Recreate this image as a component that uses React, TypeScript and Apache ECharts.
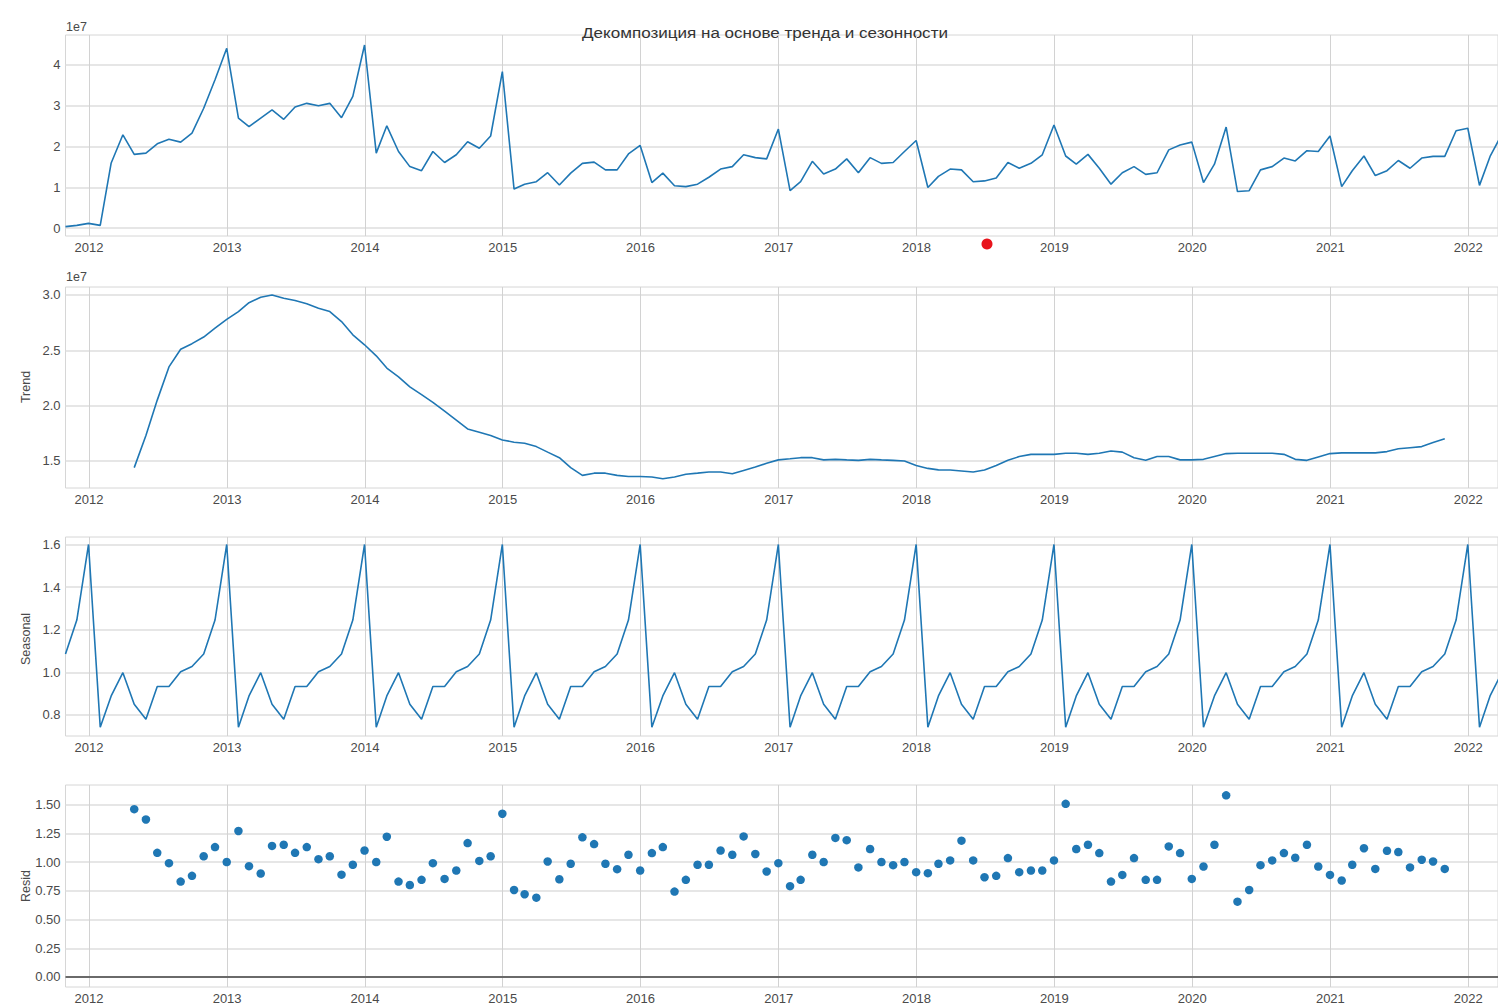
import React, { useEffect, useRef } from "react";
import * as echarts from "echarts";

// Monthly series, values in units of 1e7, month-end dates
const observedStart = { year: 2011, month: 9 }; // Oct 2011
const observed = [
  0.04, 0.07, 0.12,
  0.07, 1.6, 2.29, 1.81, 1.84, 2.07, 2.18, 2.11, 2.33, 2.94, 3.64, 4.41,
  2.7, 2.49, 2.7, 2.9, 2.67, 2.97, 3.06, 3.0, 3.06, 2.71, 3.23, 4.49,
  1.84, 2.51, 1.88, 1.51, 1.41, 1.88, 1.61, 1.8, 2.12, 1.96, 2.26, 3.84,
  0.96, 1.08, 1.14, 1.36, 1.06, 1.35, 1.59, 1.62, 1.43, 1.43, 1.82, 2.03,
  1.12, 1.35, 1.04, 1.02, 1.08, 1.25, 1.45, 1.51, 1.8, 1.73, 1.7, 2.43,
  0.92, 1.14, 1.64, 1.33, 1.45, 1.7, 1.36, 1.73, 1.59, 1.61, 1.88, 2.15,
  1.0, 1.27, 1.45, 1.43, 1.14, 1.16, 1.23, 1.61, 1.47, 1.59, 1.8, 2.53,
  1.77, 1.57, 1.81, 1.47, 1.08, 1.36, 1.51, 1.32, 1.36, 1.92, 2.04, 2.11,
  1.12, 1.57, 2.48, 0.9, 0.92, 1.43, 1.51, 1.72, 1.65, 1.9, 1.88, 2.26,
  1.02, 1.41, 1.77, 1.29, 1.41, 1.66, 1.47, 1.72, 1.76, 1.76, 2.39, 2.45,
  1.05, 1.76, 2.3,
];

// Trend and residual start in Apr 2012 (centered moving average)
const componentStart = { year: 2012, month: 3 };
const trend = [
  1.44, 1.73, 2.05, 2.35, 2.51, 2.56, 2.62, 2.7, 2.78,
  2.85, 2.93, 2.98, 3.0, 2.97, 2.95, 2.92, 2.88, 2.85, 2.76, 2.64, 2.55,
  2.45, 2.34, 2.26, 2.17, 2.1, 2.03, 1.95, 1.87, 1.79, 1.76, 1.73, 1.69,
  1.67, 1.66, 1.63, 1.58, 1.53, 1.44, 1.37, 1.39, 1.39, 1.37, 1.36, 1.36,
  1.355, 1.34, 1.355, 1.38, 1.39, 1.4, 1.4, 1.385, 1.415, 1.445, 1.48, 1.51,
  1.52, 1.53, 1.53, 1.51, 1.515, 1.51, 1.506, 1.515, 1.51, 1.506, 1.5, 1.46,
  1.433, 1.42, 1.418, 1.41, 1.4, 1.418, 1.46, 1.506, 1.54, 1.56, 1.56, 1.56,
  1.57, 1.57, 1.56, 1.57, 1.59, 1.58, 1.53, 1.506, 1.54, 1.54, 1.51, 1.51,
  1.515, 1.54, 1.567, 1.57, 1.57, 1.57, 1.57, 1.56, 1.515, 1.506, 1.536, 1.567,
  1.573, 1.573, 1.573, 1.573, 1.585, 1.61, 1.62, 1.63, 1.667, 1.7,
];

// Seasonal index by calendar month, Jan..Dec
const seasonalByMonth = [0.742, 0.889, 0.998, 0.85, 0.78, 0.933, 0.933, 1.003, 1.027, 1.086, 1.245, 1.6];

const resid = [
  1.46, 1.37, 1.08, 0.99, 0.83, 0.88, 1.05, 1.13, 1.0,
  1.27, 0.964, 0.9, 1.14, 1.15, 1.08, 1.13, 1.025, 1.05, 0.89, 0.976, 1.1,
  1.0, 1.22, 0.83, 0.8, 0.845, 0.99, 0.853, 0.926, 1.165, 1.01, 1.05, 1.42,
  0.757, 0.72, 0.69, 1.005, 0.85, 0.985, 1.215, 1.156, 0.985, 0.938, 1.063, 0.926,
  1.078, 1.13, 0.743, 0.845, 0.976, 0.976, 1.1, 1.063, 1.223, 1.07, 0.918, 0.99,
  0.79, 0.845, 1.063, 1.0, 1.21, 1.19, 0.953, 1.113, 1.0, 0.973, 1.0, 0.912,
  0.903, 0.985, 1.014, 1.186, 1.014, 0.868, 0.88, 1.034, 0.912, 0.926, 0.926, 1.014,
  1.506, 1.113, 1.15, 1.078, 0.83, 0.888, 1.034, 0.845, 0.845, 1.136, 1.078, 0.853,
  0.961, 1.15, 1.58, 0.655, 0.757, 0.973, 1.014, 1.078, 1.037, 1.15, 0.961, 0.888,
  0.839, 0.976, 1.12, 0.94, 1.098, 1.087, 0.953, 1.02, 1.005, 0.94,
];

const yearTicks = [2012, 2013, 2014, 2015, 2016, 2017, 2018, 2019, 2020, 2021, 2022];
const observedTicks = [0, 1, 2, 3, 4];
const trendTicks = [1.5, 2.0, 2.5, 3.0];
const seasonalTicks = [0.8, 1.0, 1.2, 1.4, 1.6];
const residTicks = [0, 0.25, 0.5, 0.75, 1.0, 1.25, 1.5];

const TITLE = "Декомпозиция на основе тренда и сезонности";

const monthEnd = (year: number, month: number) => Date.UTC(year, month + 1, 0);

function toPoints(values: number[], start: { year: number; month: number }) {
  return values.map((v, i) => {
    const m = start.month + i;
    return [monthEnd(start.year + Math.floor(m / 12), m % 12), v];
  });
}

const FONT = "Liberation Sans, Arial, sans-serif";
const BLUE = "#1f77b4";
const LABEL_COLOR = "#4a4a4a";

export default function App() {
  const ref = useRef<HTMLDivElement>(null);

  useEffect(() => {
    if (!ref.current) return;
    const chart = echarts.init(ref.current, undefined, { renderer: "svg" });

    const seasonal = observed.map((_, i) => {
      const m = (observedStart.month + i) % 12;
      return seasonalByMonth[m];
    });

    const xMin = Date.UTC(2011, 9, 31);
    const xMax = Date.UTC(2022, 2, 21);
    const yearValues = yearTicks.map((y) => Date.UTC(y, 0, 1));

    const panels = [
      { top: 35, height: 201, min: -0.19, max: 4.735, ticks: observedTicks, fmt: (v: number) => String(Math.round(v)) },
      { top: 287, height: 201, min: 1.256, max: 3.072, ticks: trendTicks, fmt: (v: number) => v.toFixed(1) },
      { top: 537, height: 199, min: 0.701, max: 1.635, ticks: seasonalTicks, fmt: (v: number) => v.toFixed(1) },
      { top: 785, height: 202, min: -0.087, max: 1.67, ticks: residTicks, fmt: (v: number) => v.toFixed(2) },
    ];

    const grid = panels.map((p) => ({
      left: 65.5,
      right: 0,
      top: p.top,
      height: p.height,
      show: true,
      borderColor: "#d6d6d6",
      borderWidth: 1,
      backgroundColor: "#ffffff",
    }));

    const xAxis = panels.map((_, i) => ({
      type: "value",
      gridIndex: i,
      min: xMin,
      max: xMax,
      axisLine: { show: false },
      axisTick: { show: false, customValues: yearValues },
      axisLabel: {
        customValues: yearValues,
        formatter: (v: number) => String(new Date(v).getUTCFullYear()),
        color: LABEL_COLOR,
        fontFamily: FONT,
        fontSize: 13,
        margin: 5,
      },
      splitLine: { show: true, lineStyle: { color: "#d2d2d2", width: 1 } },
    }));

    const yAxis = panels.map((p, i) => ({
      type: "value",
      gridIndex: i,
      min: p.min,
      max: p.max,
      axisLine: { show: false },
      axisTick: { show: false, customValues: p.ticks },
      axisLabel: {
        customValues: p.ticks,
        formatter: p.fmt,
        color: LABEL_COLOR,
        fontFamily: FONT,
        fontSize: 13,
        margin: 5,
      },
      splitLine: { show: true, lineStyle: { color: "#dedede", width: 1.6 } },
    }));

    const lineStyle = { color: BLUE, width: 1.6 };

    chart.setOption({
      animation: false,
      grid,
      xAxis,
      yAxis,
      series: [
        {
          type: "line",
          xAxisIndex: 0,
          yAxisIndex: 0,
          data: toPoints(observed, observedStart),
          showSymbol: false,
          lineStyle,
        },
        {
          type: "line",
          xAxisIndex: 1,
          yAxisIndex: 1,
          data: toPoints(trend, componentStart),
          showSymbol: false,
          lineStyle,
        },
        {
          type: "line",
          xAxisIndex: 2,
          yAxisIndex: 2,
          data: toPoints(seasonal, observedStart),
          showSymbol: false,
          lineStyle,
        },
        {
          type: "scatter",
          xAxisIndex: 3,
          yAxisIndex: 3,
          data: toPoints(resid, componentStart),
          symbolSize: 8.5,
          itemStyle: { color: BLUE, opacity: 1 },
          markLine: {
            silent: true,
            symbol: ["none", "none"],
            label: { show: false },
            lineStyle: { color: "#6a6a6a", width: 2.2, type: "solid" },
            data: [{ yAxis: 0 }],
          },
        },
      ],
      graphic: [
        {
          type: "text",
          x: 765,
          y: 32,
          scaleX: 1.1,
          style: { text: TITLE, fontFamily: FONT, fontSize: 15.5, fill: "#333333", align: "center", verticalAlign: "middle" },
        },
        { type: "text", x: 66, y: 27, style: { text: "1e7", fontFamily: FONT, fontSize: 12.5, fill: LABEL_COLOR, verticalAlign: "middle" } },
        { type: "text", x: 66, y: 277, style: { text: "1e7", fontFamily: FONT, fontSize: 12.5, fill: LABEL_COLOR, verticalAlign: "middle" } },
        {
          type: "text", x: 26, y: 387, rotation: Math.PI / 2,
          style: { text: "Trend", fontFamily: FONT, fontSize: 12.5, fill: LABEL_COLOR, align: "center", verticalAlign: "middle" },
        },
        {
          type: "text", x: 26, y: 639, rotation: Math.PI / 2,
          style: { text: "Seasonal", fontFamily: FONT, fontSize: 12.5, fill: LABEL_COLOR, align: "center", verticalAlign: "middle" },
        },
        {
          type: "text", x: 26, y: 886, rotation: Math.PI / 2,
          style: { text: "Resid", fontFamily: FONT, fontSize: 12.5, fill: LABEL_COLOR, align: "center", verticalAlign: "middle" },
        },
        { type: "circle", shape: { cx: 987, cy: 244, r: 5.5 }, style: { fill: "#e8141c" } },
      ],
    });

    return () => chart.dispose();
  }, []);

  return (
    <div
      ref={ref}
      style={{ position: "absolute", left: 0, top: 0, width: 1498, height: 1007, background: "#ffffff" }}
    />
  );
}
